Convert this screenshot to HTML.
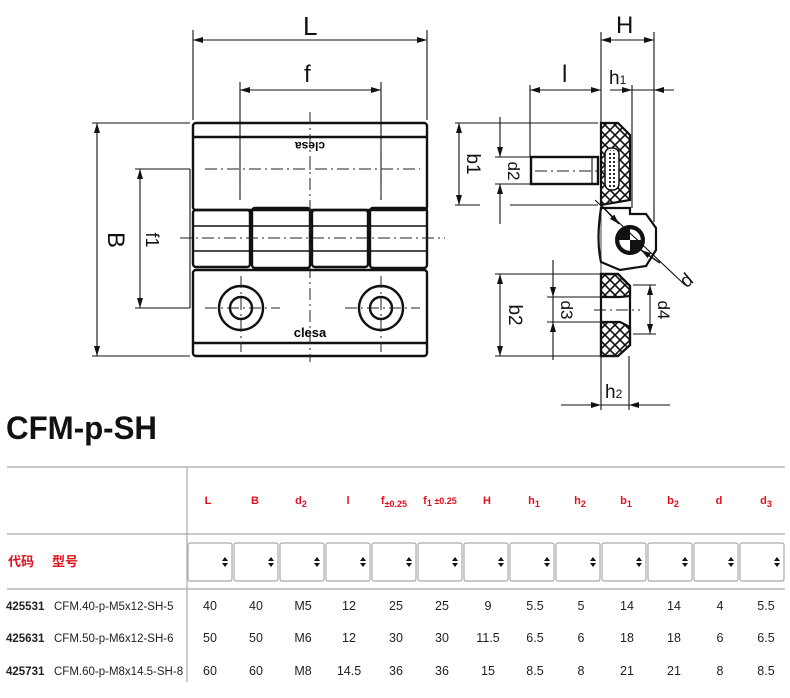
<!DOCTYPE html>
<html><head><meta charset="utf-8"><style>
html,body{margin:0;padding:0;background:#fff;}
svg{display:block;}
.dim{stroke:#111;stroke-width:1.1;fill:none}
.thick{stroke:#111;stroke-width:2.4;fill:none}
.cl{stroke:#222;stroke-width:1;stroke-dasharray:12 4 2 4;fill:none}
.lbl{font-family:"Liberation Sans",sans-serif;font-size:24px;fill:#111}
.hd{font-family:"Liberation Sans","Noto Sans CJK SC",sans-serif;font-size:11px;font-weight:bold;fill:#e0101e;text-anchor:middle}
.cell{font-family:"Liberation Sans",sans-serif;font-size:12.5px;fill:#222;text-anchor:middle}
</style></head><body>
<svg width="790" height="698" viewBox="0 0 790 698" xmlns="http://www.w3.org/2000/svg">
<defs>
<marker id="a" viewBox="0 0 10 6" refX="10" refY="3" markerWidth="11" markerHeight="6" orient="auto-start-reverse" markerUnits="userSpaceOnUse"><path d="M0,0 L10,3 L0,6z" fill="#111"/></marker>
<pattern id="x" width="10" height="10" patternUnits="userSpaceOnUse"><path d="M0,0 L10,10 M10,0 L0,10" stroke="#111" stroke-width="1.6"/></pattern>
<pattern id="dots" width="4" height="4" patternUnits="userSpaceOnUse"><circle cx="2" cy="2" r="1.1" fill="#111"/></pattern>
</defs>

<g>
<line class="dim" x1="193" y1="30" x2="193" y2="120"/>
<line class="dim" x1="427" y1="30" x2="427" y2="120"/>
<line class="dim" x1="240" y1="82" x2="240" y2="200"/>
<line class="dim" x1="381" y1="82" x2="381" y2="200"/>
<line class="dim" x1="92" y1="123" x2="190" y2="123"/>
<line class="dim" x1="92" y1="356" x2="190" y2="356"/>
<line class="dim" x1="135" y1="169" x2="190" y2="169"/>
<line class="dim" x1="135" y1="308" x2="190" y2="308"/>
<line class="dim" x1="190" y1="169" x2="190" y2="308"/>
<line class="dim" x1="193" y1="40" x2="427" y2="40" marker-start="url(#a)" marker-end="url(#a)"/>
<line class="dim" x1="240" y1="90" x2="381" y2="90" marker-start="url(#a)" marker-end="url(#a)"/>
<line class="dim" x1="97" y1="123" x2="97" y2="356" marker-start="url(#a)" marker-end="url(#a)"/>
<line class="dim" x1="140" y1="169" x2="140" y2="308" marker-start="url(#a)" marker-end="url(#a)"/>
<text class="lbl" x="303" y="35" style="font-size:26px">L</text>
<text class="lbl" x="304" y="82">f</text>
<text class="lbl" transform="translate(108,240) rotate(90)" text-anchor="middle">B</text>
<text class="lbl" transform="translate(146,240) rotate(90)" text-anchor="middle" style="font-size:18px">f1</text>
<rect class="thick" x="193" y="123" width="234" height="87" rx="3"/>
<line class="thick" x1="193" y1="137" x2="427" y2="137"/>
<text x="310" y="150" text-anchor="middle" style="font-family:'Liberation Sans',sans-serif;font-size:12px;font-weight:bold" transform="rotate(180 310 146)">clesa</text>
<rect class="thick" x="193" y="210" width="57" height="57" rx="3"/>
<rect class="thick" x="252" y="208" width="58" height="60" rx="3"/>
<rect class="thick" x="312" y="210" width="56" height="57" rx="3"/>
<rect class="thick" x="370" y="208" width="57" height="60" rx="3"/>
<line class="dim" x1="193" y1="226" x2="427" y2="226" style="stroke-width:1.5"/>
<line class="dim" x1="193" y1="251" x2="427" y2="251" style="stroke-width:1.5"/>
<rect class="thick" x="193" y="270" width="234" height="86" rx="3"/>
<line class="thick" x1="193" y1="343" x2="427" y2="343"/>
<circle class="thick" cx="241" cy="308" r="22"/>
<circle class="thick" cx="241" cy="308" r="11"/>
<circle class="thick" cx="381" cy="308" r="22"/>
<circle class="thick" cx="381" cy="308" r="11"/>
<text x="310" y="337" text-anchor="middle" style="font-family:'Liberation Sans',sans-serif;font-size:13px;font-weight:bold">clesa</text>
<line class="cl" x1="310" y1="112" x2="310" y2="362"/>
<line class="cl" x1="240" y1="140" x2="240" y2="200"/>
<line class="cl" x1="381" y1="140" x2="381" y2="200"/>
<line class="cl" x1="205" y1="169" x2="420" y2="169"/>
<line class="cl" x1="180" y1="238" x2="445" y2="238"/>
<line class="cl" x1="205" y1="308" x2="280" y2="308"/>
<line class="cl" x1="345" y1="308" x2="420" y2="308"/>
<line class="cl" x1="241" y1="276" x2="241" y2="352"/>
<line class="cl" x1="381" y1="276" x2="381" y2="352"/>
</g>

<g>
<line class="dim" x1="601" y1="32" x2="601" y2="125"/>
<line class="dim" x1="654" y1="32" x2="654" y2="222"/>
<line class="dim" x1="632" y1="85" x2="632" y2="208"/>
<line class="dim" x1="530" y1="85" x2="530" y2="157"/>
<line class="dim" x1="601" y1="40" x2="654" y2="40" marker-start="url(#a)" marker-end="url(#a)"/>
<line class="dim" x1="530" y1="90" x2="601" y2="90" marker-start="url(#a)" marker-end="url(#a)"/>
<line class="dim" x1="632" y1="90" x2="670" y2="90"/>
<line class="dim" x1="610" y1="90" x2="632" y2="90" marker-end="url(#a)"/>
<line class="dim" x1="674" y1="90" x2="654" y2="90" marker-end="url(#a)"/>
<text class="lbl" x="616" y="33">H</text>
<text class="lbl" x="562" y="82">l</text>
<text class="lbl" x="609" y="84" style="font-size:19px">h<tspan style="font-size:12px">1</tspan></text>
<line class="dim" x1="455" y1="123" x2="598" y2="123"/>
<line class="dim" x1="455" y1="205" x2="480" y2="205"/>
<line class="dim" x1="510" y1="205" x2="598" y2="205"/>
<line class="dim" x1="459" y1="123" x2="459" y2="205" marker-start="url(#a)" marker-end="url(#a)"/>
<line class="dim" x1="495" y1="157" x2="530" y2="157"/>
<line class="dim" x1="495" y1="184" x2="530" y2="184"/>
<line class="dim" x1="500" y1="117" x2="500" y2="157" marker-end="url(#a)"/>
<line class="dim" x1="500" y1="224" x2="500" y2="184" marker-end="url(#a)"/>
<text class="lbl" transform="translate(467,164) rotate(90)" text-anchor="middle" style="font-size:19px">b1</text>
<text class="lbl" transform="translate(508,171) rotate(90)" text-anchor="middle" style="font-size:17px">d2</text>
<rect class="thick" x="531" y="157" width="67" height="27"/>
<line class="dim" x1="592" y1="157" x2="592" y2="184"/>
<line class="cl" x1="535" y1="171" x2="610" y2="171"/>
<path d="M601,123 L618,123 L630,135 L630,200 L601,205 Z" fill="url(#x)" stroke="#111" stroke-width="2.2"/>
<rect x="605" y="148" width="14" height="42" rx="6" fill="#fff" stroke="#111" stroke-width="1.5"/>
<rect x="607" y="150" width="10" height="38" rx="5" fill="url(#dots)"/>
<path d="M601,208 L630,208 L630,214 L646,214 L656,228 L656,250 L646,266 L620,270 L601,262 Q596,240 601,208Z" fill="#fff" stroke="#111" stroke-width="2.2"/>
<circle cx="630" cy="240" r="14" fill="#fff" stroke="#111" stroke-width="2"/>
<path d="M630,240 L630,228 A12,12 0 0 0 618,240Z M630,240 L630,252 A12,12 0 0 0 642,240Z" fill="#111"/>
<circle cx="630" cy="240" r="12" fill="none" stroke="#111" stroke-width="2.5"/>
<line class="dim" x1="595" y1="200" x2="685" y2="285"/>
<line class="dim" x1="600" y1="204" x2="619" y2="224" marker-end="url(#a)" style="stroke-width:1.5"/>
<line class="dim" x1="660" y1="263" x2="641" y2="250" marker-end="url(#a)" style="stroke-width:1.5"/>
<text class="lbl" x="680" y="285" transform="rotate(-40 688 278)" style="font-size:19px">d</text>
<path d="M601,274 L618,274 L630,286 L630,296 L620,297 L601,297Z" fill="url(#x)" stroke="#111" stroke-width="2.2"/>
<path d="M601,322 L620,322 L630,327 L630,345 L618,356 L601,356Z" fill="url(#x)" stroke="#111" stroke-width="2.2"/>
<path d="M601,274 L618,274 L630,286 L630,345 L618,356 L601,356Z" fill="none" stroke="#111" stroke-width="2.2"/>
<line class="dim" x1="495" y1="274" x2="600" y2="274"/>
<line class="dim" x1="495" y1="356" x2="600" y2="356"/>
<line class="dim" x1="500" y1="274" x2="500" y2="356" marker-start="url(#a)" marker-end="url(#a)"/>
<line class="dim" x1="547" y1="297" x2="600" y2="297"/>
<line class="dim" x1="547" y1="322" x2="600" y2="322"/>
<line class="dim" x1="553" y1="260" x2="553" y2="297" marker-end="url(#a)"/>
<line class="dim" x1="553" y1="360" x2="553" y2="322" marker-end="url(#a)"/>
<line class="dim" x1="553" y1="297" x2="553" y2="322"/>
<line class="dim" x1="633" y1="285" x2="656" y2="285"/>
<line class="dim" x1="633" y1="334" x2="656" y2="334"/>
<line class="dim" x1="650" y1="285" x2="650" y2="334" marker-start="url(#a)" marker-end="url(#a)"/>
<text class="lbl" transform="translate(509,315) rotate(90)" text-anchor="middle" style="font-size:19px">b2</text>
<text class="lbl" transform="translate(561,310) rotate(90)" text-anchor="middle" style="font-size:17px">d3</text>
<text class="lbl" transform="translate(658,310) rotate(90)" text-anchor="middle" style="font-size:17px">d4</text>
<line class="cl" x1="594" y1="310" x2="640" y2="310"/>
<line class="dim" x1="601" y1="356" x2="601" y2="410"/>
<line class="dim" x1="629" y1="356" x2="629" y2="410"/>
<line class="dim" x1="561" y1="405" x2="601" y2="405" marker-end="url(#a)"/>
<line class="dim" x1="670" y1="405" x2="629" y2="405" marker-end="url(#a)"/>
<line class="dim" x1="601" y1="405" x2="629" y2="405"/>
<text class="lbl" x="605" y="398" style="font-size:19px">h<tspan style="font-size:12px">2</tspan></text>
<line class="dim" x1="601" y1="125" x2="601" y2="400" style="stroke-width:0.8"/>
</g>

<text x="6" y="439" style="font-family:'Liberation Sans',sans-serif;font-size:32px;font-weight:bold;fill:#111" textLength="151" lengthAdjust="spacingAndGlyphs">CFM-p-SH</text>

<g stroke="#aaa" stroke-width="1.2">
<line x1="7" y1="467" x2="785" y2="467"/>
<line x1="7" y1="534" x2="785" y2="534"/>
<line x1="7" y1="589" x2="785" y2="589"/>
<line x1="187" y1="467" x2="187" y2="682"/>
</g>
<g class="hd">
<text x="208" y="504">L</text>
<text x="255" y="504">B</text>
<text x="301" y="504">d<tspan font-size="9" dy="3">2</tspan></text>
<text x="348" y="504">l</text>
<text x="394" y="504">f<tspan font-size="9" dy="3">±0.25</tspan></text>
<text x="440" y="504">f<tspan font-size="9" dy="2">1</tspan><tspan font-size="9" dy="-2"> ±0.25</tspan></text>
<text x="487" y="504">H</text>
<text x="534" y="504">h<tspan font-size="9" dy="3">1</tspan></text>
<text x="580" y="504">h<tspan font-size="9" dy="3">2</tspan></text>
<text x="626" y="504">b<tspan font-size="9" dy="3">1</tspan></text>
<text x="673" y="504">b<tspan font-size="9" dy="3">2</tspan></text>
<text x="719" y="504">d</text>
<text x="766" y="504">d<tspan font-size="9" dy="3">3</tspan></text>
<text x="21" y="566" style="font-size:13px">代码</text>
<text x="65" y="566" style="font-size:13px">型号</text>
</g>
<g fill="#fff" stroke="#aaa" stroke-width="1.2">
<rect x="188" y="543" width="44" height="38" rx="2"/>
<rect x="234" y="543" width="44" height="38" rx="2"/>
<rect x="280" y="543" width="44" height="38" rx="2"/>
<rect x="326" y="543" width="44" height="38" rx="2"/>
<rect x="372" y="543" width="44" height="38" rx="2"/>
<rect x="418" y="543" width="44" height="38" rx="2"/>
<rect x="464" y="543" width="44" height="38" rx="2"/>
<rect x="510" y="543" width="44" height="38" rx="2"/>
<rect x="556" y="543" width="44" height="38" rx="2"/>
<rect x="602" y="543" width="44" height="38" rx="2"/>
<rect x="648" y="543" width="44" height="38" rx="2"/>
<rect x="694" y="543" width="44" height="38" rx="2"/>
<rect x="740" y="543" width="44" height="38" rx="2"/>
</g>
<g fill="#111">
<path d="M222,561 l3,-4 l3,4z M222,563 l3,4 l3,-4z"/>
<path d="M268,561 l3,-4 l3,4z M268,563 l3,4 l3,-4z"/>
<path d="M314,561 l3,-4 l3,4z M314,563 l3,4 l3,-4z"/>
<path d="M360,561 l3,-4 l3,4z M360,563 l3,4 l3,-4z"/>
<path d="M406,561 l3,-4 l3,4z M406,563 l3,4 l3,-4z"/>
<path d="M452,561 l3,-4 l3,4z M452,563 l3,4 l3,-4z"/>
<path d="M498,561 l3,-4 l3,4z M498,563 l3,4 l3,-4z"/>
<path d="M544,561 l3,-4 l3,4z M544,563 l3,4 l3,-4z"/>
<path d="M590,561 l3,-4 l3,4z M590,563 l3,4 l3,-4z"/>
<path d="M636,561 l3,-4 l3,4z M636,563 l3,4 l3,-4z"/>
<path d="M682,561 l3,-4 l3,4z M682,563 l3,4 l3,-4z"/>
<path d="M728,561 l3,-4 l3,4z M728,563 l3,4 l3,-4z"/>
<path d="M774,561 l3,-4 l3,4z M774,563 l3,4 l3,-4z"/>
</g>
<g class="cell">
<text x="6" y="610" text-anchor="start" font-weight="bold" font-size="11.5">425531</text>
<text x="54" y="610" text-anchor="start" font-size="11.5">CFM.40-p-M5x12-SH-5</text>
<text x="210" y="610">40</text><text x="256" y="610">40</text><text x="303" y="610">M5</text><text x="349" y="610">12</text><text x="396" y="610">25</text><text x="442" y="610">25</text><text x="488" y="610">9</text><text x="535" y="610">5.5</text><text x="581" y="610">5</text><text x="627" y="610">14</text><text x="674" y="610">14</text><text x="720" y="610">4</text><text x="766" y="610">5.5</text>
<text x="6" y="642" text-anchor="start" font-weight="bold" font-size="11.5">425631</text>
<text x="54" y="642" text-anchor="start" font-size="11.5">CFM.50-p-M6x12-SH-6</text>
<text x="210" y="642">50</text><text x="256" y="642">50</text><text x="303" y="642">M6</text><text x="349" y="642">12</text><text x="396" y="642">30</text><text x="442" y="642">30</text><text x="488" y="642">11.5</text><text x="535" y="642">6.5</text><text x="581" y="642">6</text><text x="627" y="642">18</text><text x="674" y="642">18</text><text x="720" y="642">6</text><text x="766" y="642">6.5</text>
<text x="6" y="675" text-anchor="start" font-weight="bold" font-size="11.5">425731</text>
<text x="54" y="675" text-anchor="start" font-size="11.5">CFM.60-p-M8x14.5-SH-8</text>
<text x="210" y="675">60</text><text x="256" y="675">60</text><text x="303" y="675">M8</text><text x="349" y="675">14.5</text><text x="396" y="675">36</text><text x="442" y="675">36</text><text x="488" y="675">15</text><text x="535" y="675">8.5</text><text x="581" y="675">8</text><text x="627" y="675">21</text><text x="674" y="675">21</text><text x="720" y="675">8</text><text x="766" y="675">8.5</text>
</g>
</svg>
</body></html>
